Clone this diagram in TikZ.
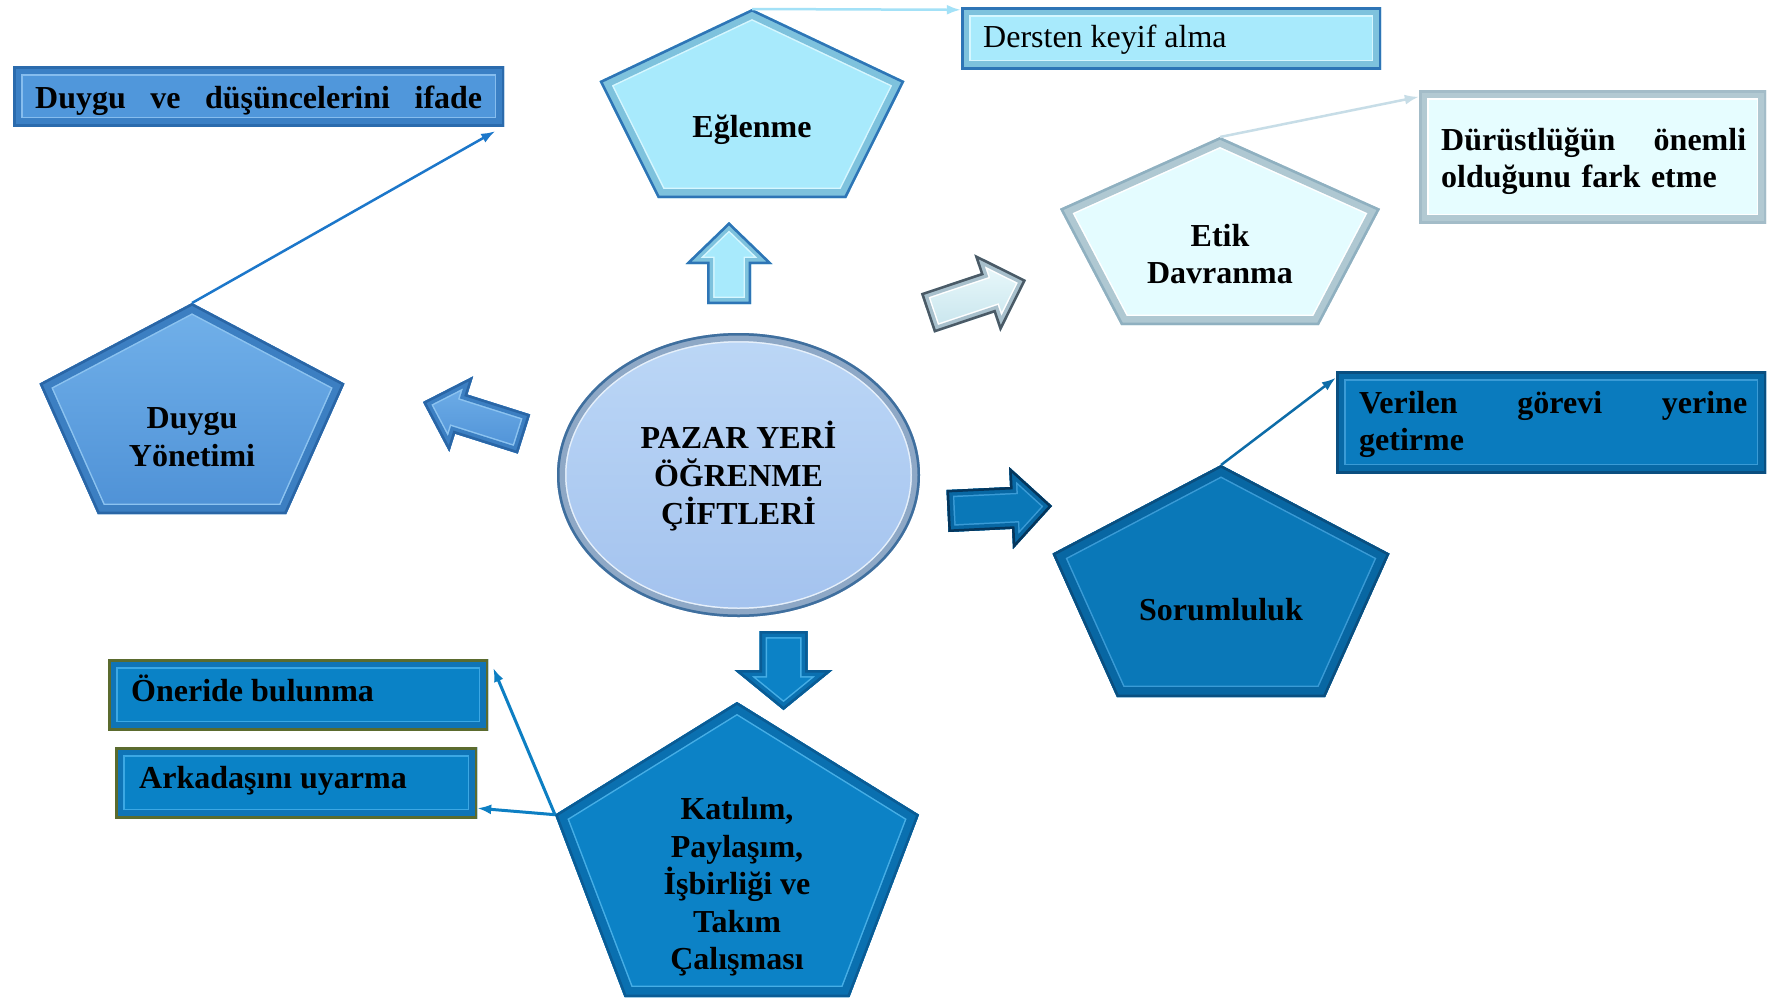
\documentclass[tikz,border=0pt]{standalone}
\usepackage{fontspec}
\setmainfont{Liberation Serif}
\usetikzlibrary{arrows.meta}

\definecolor{egF}{HTML}{A8EAFC}\definecolor{egS}{HTML}{7EC2DD}\definecolor{egL}{HTML}{D6F7FF}\definecolor{egD}{HTML}{2E75B6}
\definecolor{etF}{HTML}{E4FCFF}\definecolor{etS}{HTML}{AFC8D2}\definecolor{etL}{HTML}{FFFFFF}\definecolor{etD}{HTML}{8FB0C0}
\definecolor{dyT}{HTML}{72B1EA}\definecolor{dyB}{HTML}{4E91D6}\definecolor{dyS}{HTML}{3C7FC2}\definecolor{dyL}{HTML}{8CC3F0}\definecolor{dyD}{HTML}{2A66A6}
\definecolor{elT}{HTML}{BCD7F6}\definecolor{elB}{HTML}{A3C2EE}\definecolor{elS}{HTML}{8EA8C6}\definecolor{elL}{HTML}{E6F0FB}\definecolor{elD}{HTML}{3F6F9E}
\definecolor{soF}{HTML}{0A78B8}\definecolor{soS}{HTML}{0867A3}\definecolor{soL}{HTML}{3A9BD6}\definecolor{soD}{HTML}{0A4F80}
\definecolor{kaF}{HTML}{0C82C6}\definecolor{kaS}{HTML}{0A70B0}\definecolor{kaL}{HTML}{46AEE6}\definecolor{kaD}{HTML}{0A5C95}
\definecolor{dvF}{HTML}{5097DB}\definecolor{dvS}{HTML}{3B80C5}\definecolor{dvL}{HTML}{86BDEE}\definecolor{dvD}{HTML}{2B6BAD}
\definecolor{duF}{HTML}{E6FDFF}\definecolor{duS}{HTML}{B2C9D2}\definecolor{duL}{HTML}{FFFFFF}\definecolor{duD}{HTML}{A3BCC8}
\definecolor{veF}{HTML}{0A7BBE}\definecolor{veS}{HTML}{0869A6}\definecolor{veL}{HTML}{3A9BD6}\definecolor{veD}{HTML}{0A4F80}
\definecolor{onF}{HTML}{0A82C6}\definecolor{onS}{HTML}{0F74B6}\definecolor{onL}{HTML}{3CA8E4}\definecolor{onD}{HTML}{5B6B2E}
\definecolor{diT}{HTML}{EEFBFD}\definecolor{diB}{HTML}{C6E4EC}\definecolor{diS}{HTML}{A8C0CC}\definecolor{diL}{HTML}{FFFFFF}\definecolor{diD}{HTML}{4A5A66}
\definecolor{rtD}{HTML}{05365C}
\definecolor{cA}{HTML}{1C77CA}\definecolor{cB}{HTML}{A3E1F7}\definecolor{cC}{HTML}{C7DDE7}\definecolor{cD}{HTML}{0D6CA8}\definecolor{cE}{HTML}{0D7FC3}

% bevelled shape: path, fill options, strip, light, dark, strip width
\newcommand\bevelp[6]{%
  \begin{scope}
    \clip #1;
    \path[#2] #1;
    \draw[#4, line width=2*#6+3] #1;
    \draw[#3, line width=2*#6] #1;
    \draw[#5, line width=5] #1;
  \end{scope}}
% bevel inside a rectangular node (path picture)
\newcommand\bevelbox[4]{%
  \draw[#2, line width=2*#4+3] (path picture bounding box.south west) rectangle (path picture bounding box.north east);
  \draw[#1, line width=2*#4] (path picture bounding box.south west) rectangle (path picture bounding box.north east);
  \draw[#3, line width=5] (path picture bounding box.south west) rectangle (path picture bounding box.north east);}
% pentagon corner coordinates: name, cx, top, width, height
\newcommand\mkpent[5]{%
  \coordinate (#1-t) at (#2,#3);
  \coordinate (#1-l) at ({#2-#4/2},{#3+0.382*#5});
  \coordinate (#1-r) at ({#2+#4/2},{#3+0.382*#5});
  \coordinate (#1-bl) at ({#2-0.309*#4},{#3+#5});
  \coordinate (#1-br) at ({#2+0.309*#4},{#3+#5});}

\tikzset{
  ptxt/.style={align=center, inner sep=0pt, text=black, font=\fontsize{32}{37.5}\selectfont\bfseries},
  bx/.style={rectangle, inner sep=0pt},
  btxt/.style={anchor=base west, inner sep=0pt, align=left, text=black, font=\fontsize{32}{37.5}\selectfont\bfseries},
  conn/.style={line width=2.5pt, -{Latex[length=14pt,width=10pt]}},
}

\begin{document}
\begin{tikzpicture}[x=1pt, y=-1pt]
\useasboundingbox (0,0) rectangle (1767,997);
\clip (0,0) rectangle (1767,997);
\fill[white] (0,0) rectangle (1767,997);

% ---------- pentagons ----------
\mkpent{eg}{752}{9}{305}{189}
\mkpent{et}{1220}{137}{320}{188}
\mkpent{dy}{192}{303}{305}{211}
\mkpent{so}{1221}{465}{337}{232}
\mkpent{ka}{737}{702}{364}{295}

\bevelp{(eg-t) -- (eg-r) -- (eg-br) -- (eg-bl) -- (eg-l) -- cycle}{fill=egF}{egS}{egL}{egD}{9}
\bevelp{(et-t) -- (et-r) -- (et-br) -- (et-bl) -- (et-l) -- cycle}{fill=etF}{etS}{etL}{etD}{9}
\bevelp{(dy-t) -- (dy-r) -- (dy-br) -- (dy-bl) -- (dy-l) -- cycle}{top color=dyT, bottom color=dyB}{dyS}{dyL}{dyD}{9}
\bevelp{(so-t) -- (so-r) -- (so-br) -- (so-bl) -- (so-l) -- cycle}{fill=soF}{soS}{soL}{soD}{10}
\bevelp{(ka-t) -- (ka-r) -- (ka-br) -- (ka-bl) -- (ka-l) -- cycle}{fill=kaF}{kaS}{kaL}{kaD}{10}

\node[ptxt] (eglenme) at (752,130) {Eğlenme};
\node[ptxt] (etik) at (1220,254) {Etik\\Davranma};
\node[ptxt] (duygu) at (192,437) {Duygu\\Yönetimi};
\node[ptxt] (sorum) at (1221,610) {Sorumluluk};
\node[ptxt] (katilim) at (737,887) {Katılım,\\Paylaşım,\\İşbirliği ve\\Takım\\Çalışması};

% ---------- central ellipse ----------
\bevelp{(738.5,475) ellipse [x radius=181.5pt, y radius=142pt]}{top color=elT, bottom color=elB}{elS}{elL}{elD}{8}
\node[ptxt, font=\fontsize{32}{38}\selectfont\bfseries] (center) at (738.5,476) {PAZAR YERİ\\ÖĞRENME\\ÇİFTLERİ};

% ---------- block arrows ----------
\bevelp{(707,304) -- (707,264) -- (685.5,264) -- (729,222) -- (772.5,264) -- (751,264) -- (751,304) -- cycle}{fill=egF}{egS}{egL}{egD}{6}
\bevelp{(759.5,631) -- (807.5,631) -- (807.5,670) -- (832.5,670) -- (783.5,710) -- (734.5,670) -- (759.5,670) -- cycle}{fill=kaF}{kaS}{kaL}{kaD}{6}
\bevelp{(530.2,414.4) -- (467.4,394.5) -- (473.1,376.4) -- (423,402) -- (449.3,451.8) -- (455.0,433.7) -- (517.8,453.6) -- cycle}{top color=dyT, bottom color=dyB}{dyS}{dyL}{dyD}{6}
\bevelp{(920.9,293.3) -- (980.7,273.3) -- (974.3,254.3) -- (1026,280) -- (1000.3,331.7) -- (993.9,312.7) -- (934.1,332.7) -- cycle}{top color=diT, bottom color=diB}{diS}{diL}{diD}{6}
\bevelp{(946.5,490) -- (1010.05,487) -- (1009.1,467) -- (1052,506) -- (1013,549) -- (1012.05,528.9) -- (948.5,532) -- cycle}{fill=soF}{soS}{soL}{rtD}{6}

% ---------- text boxes ----------
\node[bx, fill=dvF, minimum width=491pt, minimum height=60pt,
  path picture={\bevelbox{dvS}{dvL}{dvD}{8}}] (duyguve) at (258.5,96) {};
\node[bx, fill=egF, minimum width=420pt, minimum height=62pt,
  path picture={\bevelbox{egS}{egL}{egD}{8}}] (dersten) at (1171,38) {};
\node[bx, fill=duF, minimum width=347pt, minimum height=133pt,
  path picture={\bevelbox{duS}{duL}{duD}{8}}] (durust) at (1592.5,156.5) {};
\node[bx, fill=veF, minimum width=430pt, minimum height=102pt,
  path picture={\bevelbox{veS}{veL}{veD}{8}}] (verilen) at (1551,422) {};
\node[bx, fill=onF, minimum width=380pt, minimum height=71pt,
  path picture={\bevelbox{onS}{onL}{onD}{8}}] (oneride) at (298,694.5) {};
\node[bx, fill=onF, minimum width=362pt, minimum height=71pt,
  path picture={\bevelbox{onS}{onL}{onD}{8}}] (arkadas) at (296,782.5) {};

\node[btxt, text width=447pt] (duyguve-t) at (35,108) {Duygu\hfill ve\hfill düşüncelerini\hfill ifade};
\node[btxt, font=\fontsize{32}{37.5}\selectfont] (dersten-t) at (983,47) {Dersten keyif alma};
\node[btxt, text width=305pt] (durust-t) at (1441,150) {Dürüstlüğün\hfill önemli\\olduğunu fark etme};
\node[btxt, text width=388pt] (verilen-t) at (1359,413) {Verilen\hfill görevi\hfill yerine\\getirme};
\node[btxt] (oneride-t) at (131,701.5) {Öneride bulunma};
\node[btxt] (arkadas-t) at (139,788.5) {Arkadaşını uyarma};

% ---------- connector ends ----------
\coordinate (dv-end) at ([xshift=-9pt,yshift=-5pt]duyguve.south east);
\coordinate (de-end) at ([yshift=-3pt]dersten.north west);
\coordinate (du-end) at ([yshift=-7pt]durust.north west);
\coordinate (ve-end) at ([yshift=-7pt]verilen.north west);
\coordinate (on-end) at ([xshift=5pt,yshift=-9pt]oneride.north east);
\coordinate (ar-end) at ([yshift=10pt]arkadas.south east);

% ---------- connectors ----------
\draw[conn, cA] (dy-t) -- (dv-end);
\draw[conn, cB] (eg-t) -- (de-end);
\draw[conn, cC] (et-t) -- (du-end);
\draw[conn, cD] (so-t) -- (ve-end);
\draw[conn, cE, line width=3pt] (ka-l) -- (on-end);
\draw[conn, cE, line width=3pt] (ka-l) -- (ar-end);
\end{tikzpicture}
\end{document}
